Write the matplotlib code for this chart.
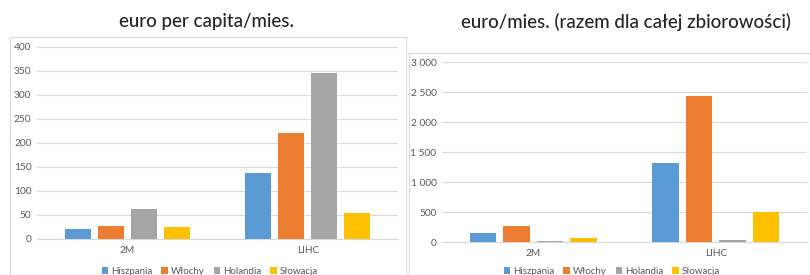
import matplotlib
matplotlib.use("Agg")
import matplotlib.pyplot as plt
import matplotlib.ticker as mticker
from matplotlib.patches import Rectangle
import numpy as np

# dane
categories = ["2M", "LIHC"]
countries = ["Hiszpania", "Włochy", "Holandia", "Słowacja"]
colors = ["#5b9bd5", "#ed7d31", "#a5a5a5", "#ffc000"]

per_capita = {
    "Hiszpania": [20, 138],
    "Włochy": [28, 221],
    "Holandia": [62, 346],
    "Słowacja": [26, 55],
}
total = {
    "Hiszpania": [145, 1310],
    "Włochy": [270, 2440],
    "Holandia": [10, 35],
    "Słowacja": [60, 500],
}

titles = ["euro per capita/mies.", "euro/mies. (razem dla całej zbiorowości)"]

W, H = 810, 275
dpi = 100
plt.rcParams["font.family"] = ["Lato", "DejaVu Sans"]

fig = plt.figure(figsize=(W / dpi, H / dpi), dpi=dpi)


def px_rect(x0, y_top, x1, y_bot):
    # piksele -> ułamki figury
    return [x0 / W, 1 - y_bot / H, (x1 - x0) / W, (y_bot - y_top) / H]


# ramki wykresów
fig.add_artist(Rectangle((10 / W, -0.1), (406 - 10) / W, 1.1 - 37 / H, transform=fig.transFigure,
                         fill=False, edgecolor="#d9d9d9", linewidth=0.8))
fig.add_artist(Rectangle((409 / W, -0.1), (812 - 409) / W, 1.1 - 53 / H, transform=fig.transFigure,
                         fill=False, edgecolor="#d9d9d9", linewidth=0.8))

ax1 = fig.add_axes(px_rect(37, 47, 398, 239))
ax2 = fig.add_axes(px_rect(442, 62, 807, 242))

bar_w = 0.145
step = 0.183
x = np.arange(len(categories))


def draw(ax, data, ymax, ystep, fmt):
    for i, c in enumerate(countries):
        ax.bar(x + (i - 1.5) * step, data[c], width=bar_w, color=colors[i], label=c, zorder=3)
    ax.set_xlim(-0.5, 1.5)
    ax.set_ylim(0, ymax)
    ax.set_yticks(np.arange(0, ymax + 1, ystep))
    ax.yaxis.set_major_formatter(mticker.FuncFormatter(fmt))
    ax.set_xticks(x)
    ax.set_xticklabels(categories)
    ax.grid(axis="y", color="#d9d9d9", linewidth=0.8, zorder=0)
    for s in ["top", "right", "left"]:
        ax.spines[s].set_visible(False)
    ax.spines["bottom"].set_color("#d9d9d9")
    ax.spines["bottom"].set_linewidth(0.8)
    ax.tick_params(length=0, labelsize=7.3, colors="#595959", pad=4)
    ax.tick_params(axis="x", pad=5)


draw(ax1, per_capita, 400, 50, lambda v, _: f"{int(v)}")
draw(ax2, total, 3000, 500, lambda v, _: f"{int(v):,}".replace(",", " "))

fig.text(207 / W, 1 - 22 / H, titles[0], ha="center", va="center", fontsize=13.5,
         color="#262626", fontweight="medium")
fig.text(626 / W, 1 - 22 / H, titles[1], ha="center", va="center", fontsize=13.5,
         color="#262626", fontweight="medium")

for ax, cx in [(ax1, 210), (ax2, 612)]:
    handles, labels = ax.get_legend_handles_labels()
    fig.legend(handles, labels, loc="center", bbox_to_anchor=(cx / W, 1 - 271 / H), ncol=4,
               frameon=False, fontsize=7, labelcolor="#595959", handlelength=0.7, handleheight=0.7,
               handletextpad=0.3, columnspacing=0.9, borderpad=0)

fig.savefig("out.png", dpi=dpi)
